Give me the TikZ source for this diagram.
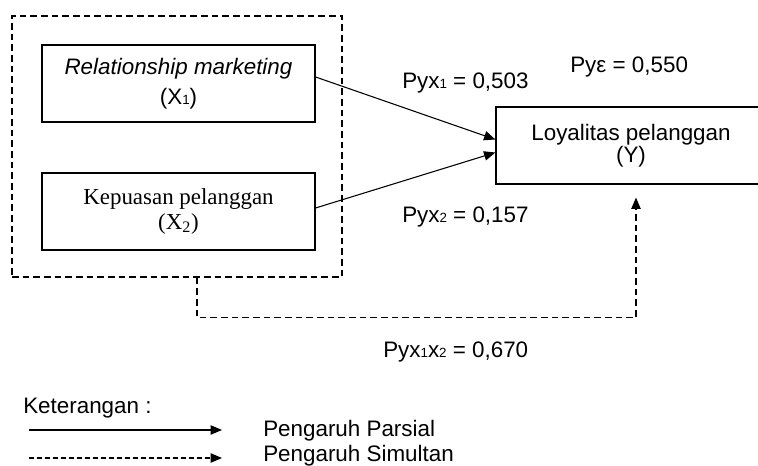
\documentclass[tikz,border=0pt]{standalone}
\usepackage{fontspec}
\setmainfont{Liberation Sans}
\newfontfamily\timesfont{Liberation Serif}
\usetikzlibrary{arrows.meta, positioning}

\newcommand{\smallidx}[1]{{\fontsize{10pt}{10pt}\selectfont #1}}

\tikzset{
  varbox/.style={draw, line width=0.9pt, minimum width=204.75pt, minimum height=57.75pt, align=center, inner sep=0pt},
  partial/.style={line width=0.8pt, -{Triangle[length=8.5pt, width=7pt]}},
  simul/.style={line width=0.9pt, dash pattern=on 5pt off 3pt, -{Triangle[length=8.5pt, width=7pt]}},
  coef/.style={font=\fontsize{16.8pt}{18pt}\selectfont, inner sep=0pt}
}

\begin{document}
\begin{tikzpicture}[x=0.75pt, y=-0.75pt, font=\fontsize{16.8pt}{18pt}\selectfont]
  \useasboundingbox (0,0) rectangle (758,466);
  \clip (0,0) rectangle (758,466);
  % Variables
  \node[draw, line width=0.9pt, dash pattern=on 5pt off 3pt, minimum width=247.5pt, minimum height=195.75pt] (grp) at (177,146.5) {};
  \node[varbox, font=\fontsize{16.8pt}{22.5pt}\selectfont] (x1) at (178.5,83.5) {\textit{Relationship marketing}\\(X\smallidx{1})};
  \node[varbox, font=\timesfont\fontsize{17.2pt}{18.75pt}\selectfont] (x2) at (178.5,211.5) {Kepuasan pelanggan\\(X\textsubscript{2})};
  \node[varbox, minimum width=202.5pt, font=\fontsize{16.8pt}{13.5pt}\selectfont] (y) at (631,145.5) {Loyalitas pelanggan\\(Y)};
  % Partial effects
  \draw[partial] (x1.east |- 0,77) -- ([yshift=4.5pt]y.west);
  \draw[partial] (x2.east |- 0,208) -- ([yshift=-5.25pt]y.west);
  % Simultaneous effect
  \draw[simul] ([xshift=15pt]grp.south) -- ++(0,40) -| ([xshift=3.75pt, yshift=-9.75pt]y.south);
  % Coefficients
  \node[coef, anchor=west] (p1) at (402,83) {Pyx\smallidx{1} = 0,503};
  \node[coef, anchor=west] (pe) at (570,67) {Pyε = 0,550};
  \node[coef, anchor=west] (p2) at (402,217) {Pyx\smallidx{2} = 0,157};
  \node[coef, anchor=west] (p12) at (383,352) {Pyx\smallidx{1}x\smallidx{2} = 0,670};
  % Legend
  \node[coef, anchor=west] (ket) at (23,408) {Keterangan :};
  \node[coef, anchor=west] (lp) at (263,431) {Pengaruh Parsial};
  \node[coef, anchor=west] (ls) at (263,456) {Pengaruh Simultan};
  \coordinate (l1a) at (29,430);
  \coordinate (l1b) at (222,430);
  \coordinate (l2a) at (29,458);
  \coordinate (l2b) at (222,458);
  \draw[partial] (l1a) -- (l1b);
  \draw[simul, dash pattern=on 3.5pt off 2.5pt] (l2a) -- (l2b);
\end{tikzpicture}
\end{document}
